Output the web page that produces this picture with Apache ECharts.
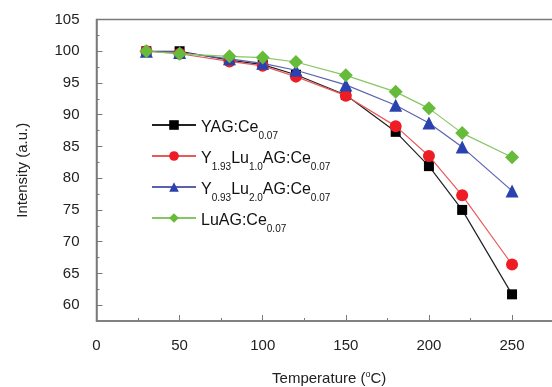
<!DOCTYPE html>
<html><head><meta charset="utf-8">
<script src="https://cdn.jsdelivr.net/npm/echarts@6/dist/echarts.min.js"></script>
<style>html,body{margin:0;padding:0;background:#fff}#c{width:552px;height:387px}</style>
</head><body><div id="c"></div>
<script>
var temps = [30, 50, 80, 100, 120, 150, 180, 200, 220, 250];
var yag   = [100, 100, 98.6, 97.9, 96.3, 93.1, 87.3, 81.9, 75.0, 61.7];
var y193  = [100, 99.6, 98.4, 97.7, 96.0, 93.0, 88.2, 83.5, 77.3, 66.4];
var y093  = [100, 99.8, 98.8, 98.1, 97.0, 94.7, 91.5, 88.7, 84.9, 78.0];
var luag  = [100, 99.6, 99.2, 99.0, 98.3, 96.2, 93.6, 91.0, 87.1, 83.3];
var yMajor = [60, 65, 70, 75, 80, 85, 90, 95, 100, 105];
var yMinor = [62.5, 67.5, 72.5, 77.5, 82.5, 87.5, 92.5, 97.5, 102.5];
var names = ['YAG:Ce0.07', 'Y1.93Lu1.0AG:Ce0.07', 'Y0.93Lu2.0AG:Ce0.07', 'LuAG:Ce0.07'];
var legendRich = {
  YAG: '{t|YAG:Ce}{s|0.07}',
  Y193: '{t|Y}{s|1.93}{t|Lu}{s|1.0}{t|AG:Ce}{s|0.07}',
  Y093: '{t|Y}{s|0.93}{t|Lu}{s|2.0}{t|AG:Ce}{s|0.07}',
  LuAG: '{t|LuAG:Ce}{s|0.07}'
};
var keys = ['YAG', 'Y193', 'Y093', 'LuAG'];
function pairs(v){ return temps.map(function(t,i){return [t, v[i]];}); }
var chart = echarts.init(document.getElementById('c'), null, {renderer:'canvas'});
var ff = '"Liberation Sans", Arial, sans-serif';
var axisCol = '#7a7a7a';
chart.setOption({
  animation: false,
  backgroundColor: '#fff',
  textStyle: {fontFamily: ff},
  grid: {left: 96.5, top: 19.5, width: 465.4, height: 301.5, show: true, borderColor: axisCol, borderWidth: 1.5,
         containLabel: false, outerBoundsMode: 'none'},
  legend: {
    orient: 'vertical', left: 146, top: 115, itemGap: 10, itemWidth: 44, itemHeight: 12,
    data: names,
    formatter: function(n){ return legendRich[keys[names.indexOf(n)]]; },
    textStyle: {
      rich: {
        t: {fontSize: 16, color: '#111', fontFamily: ff, verticalAlign: 'bottom', lineHeight: 22},
        s: {fontSize: 10, color: '#111', fontFamily: ff, verticalAlign: 'bottom', padding: [0,0,-5,0], lineHeight: 22}
      }
    }
  },
  xAxis: {
    type: 'value', min: 0, max: 280, interval: 50,
    name: 'Temperature ({o|o}C)', nameLocation: 'middle', nameGap: 49,
    nameTextStyle: {fontSize: 15, color: '#222', fontFamily: ff, rich: {o: {fontSize: 9, color: '#222', padding: [0,0,9,0]}}},
    axisLine: {lineStyle: {color: axisCol, width: 1.5}},
    axisTick: {inside: true, length: 6, lineStyle: {color: axisCol}},
    minorTick: {show: true, splitNumber: 2, length: 3, lineStyle: {color: axisCol}},
    splitLine: {show: false},
    axisLabel: {fontSize: 15, color: '#222', margin: 17, fontFamily: ff,
      formatter: function(v){ return v <= 250 ? String(v) : ''; }}
  },
  yAxis: [{
    type: 'value', min: 57.5, max: 105,
    name: 'Intensity (a.u.)', nameLocation: 'middle', nameGap: 66,
    nameTextStyle: {fontSize: 15, color: '#222', fontFamily: ff},
    axisLine: {lineStyle: {color: axisCol, width: 1.5}},
    axisTick: {inside: true, length: 6, customValues: yMajor, lineStyle: {color: axisCol}},
    axisLabel: {fontSize: 15, color: '#222', margin: 17, fontFamily: ff, customValues: yMajor},
    splitLine: {show: false}
  }, {
    type: 'value', min: 57.5, max: 105, position: 'left',
    axisLine: {show: false},
    axisTick: {inside: true, length: 3, customValues: yMinor, lineStyle: {color: axisCol}},
    axisLabel: {show: false},
    splitLine: {show: false}
  }],
  series: [
    {name: names[0], type: 'line', data: pairs(yag), symbol: 'rect', symbolSize: 10, z: 2,
     lineStyle: {color: '#222', width: 1.2}, itemStyle: {color: '#000'}},
    {name: names[1], type: 'line', data: pairs(y193), symbol: 'circle', symbolSize: 12, z: 3,
     lineStyle: {color: '#e85a5a', width: 1.2}, itemStyle: {color: '#ee1c24'}},
    {name: names[2], type: 'line', data: pairs(y093), symbol: 'triangle', symbolSize: 13, z: 4,
     lineStyle: {color: '#5a62b0', width: 1.2}, itemStyle: {color: '#2a42b0'}},
    {name: names[3], type: 'line', data: pairs(luag), symbol: 'diamond', symbolSize: 14, z: 5,
     lineStyle: {color: '#86c664', width: 1.2}, itemStyle: {color: '#66bb3a'}}
  ]
});
</script></body></html>
